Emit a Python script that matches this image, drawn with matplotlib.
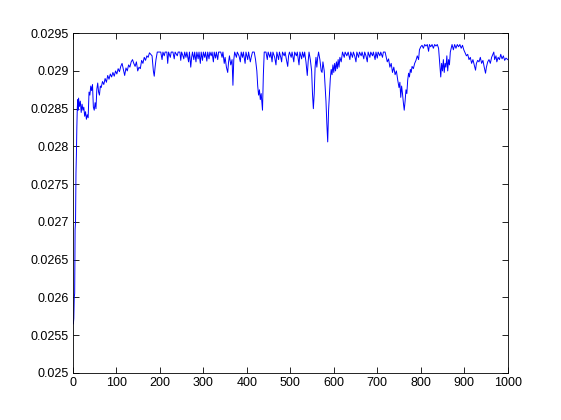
import numpy as np
import matplotlib
matplotlib.use('Agg')
import matplotlib.pyplot as plt

# warm-up / rising part (iterations 1-200)
rise_x = [1, 2, 3, 4, 5, 6, 7, 8, 9, 10, 11, 12, 13, 15, 17, 19, 21, 23, 25, 27, 29, 31, 33, 35,
          37, 39, 41, 43, 45, 47, 49, 51, 53, 55, 57, 59, 61, 63, 65, 68, 71, 74, 77, 80, 83, 86, 89,
          92, 95, 98, 101, 104, 107, 110, 113, 116, 119, 122, 125, 128, 131, 134, 137, 140, 143, 146,
          149, 152, 155, 158, 161, 164, 167, 170, 173, 176, 179, 182, 185, 187, 189, 191, 194, 197]
rise_y = [0.02565, 0.02572, 0.02600, 0.02605, 0.02690, 0.02700, 0.02765, 0.02790, 0.02825,
          0.02850, 0.02862, 0.02848, 0.02864, 0.02853, 0.02860, 0.02845, 0.02856, 0.02848, 0.02852,
          0.02840, 0.02846, 0.02836, 0.02842, 0.02838, 0.02872, 0.02868, 0.02880, 0.02874, 0.02882,
          0.02852, 0.02848, 0.02858, 0.02850, 0.02876, 0.02884, 0.02872, 0.02868, 0.02880, 0.02878,
          0.02886, 0.02882, 0.02890, 0.02885, 0.02894, 0.02889, 0.02896, 0.02892, 0.02898, 0.02893,
          0.02900, 0.02896, 0.02903, 0.02899, 0.02906, 0.02910, 0.02902, 0.02894, 0.02904, 0.02900,
          0.02908, 0.02905, 0.02912, 0.02915, 0.02910, 0.02906, 0.02912, 0.02900, 0.02905, 0.02903,
          0.02914, 0.02910, 0.02918, 0.02914, 0.02920, 0.02918, 0.02924, 0.02922, 0.02920, 0.02900,
          0.02893, 0.02905, 0.02915, 0.02925, 0.02925]

# first plateau (200-720) with the dips near 435, 550 and 585
mid_x = [200, 202, 205, 207, 210, 212, 216, 218, 220, 224, 226, 230, 233, 235, 240, 242, 246, 248, 250,
         253, 255, 257, 260, 262, 266, 268, 271, 273, 275, 278, 280, 283, 285, 288, 290, 293, 295, 298,
         300, 303, 305, 308, 310, 313, 315, 318, 320, 323, 325, 328, 330, 333, 335, 340, 343, 345, 348,
         350, 353, 356, 358, 360, 363, 366, 368, 370, 372, 376, 378, 382, 385, 387, 390, 392, 396, 398,
         402, 404, 408, 410, 413, 417, 420, 423, 425, 427, 429, 431, 433, 436, 438, 440, 444, 447, 449,
         453, 455, 458, 460, 464, 467, 469, 473, 475, 478, 480, 482, 486, 488, 491, 494, 496, 498, 502,
         504, 508, 510, 514, 516, 520, 522, 526, 528, 531, 533, 536, 539, 541, 543, 546, 549, 551, 553,
         555, 557, 559, 561, 563, 565, 568, 571, 573, 575, 578, 580, 582, 584, 586, 588, 590, 592, 594,
         596, 598, 600, 602, 604, 606, 608, 610, 612, 614, 617, 620, 624, 626, 630, 633, 637, 639, 643,
         645, 648, 651, 653, 657, 659, 663, 665, 669, 671, 674, 677, 679, 683, 685, 689, 691, 695, 697,
         700, 702, 706, 708, 712, 714, 718]
mid_y = [0.02925, 0.02925, 0.02915, 0.02925, 0.02920, 0.02925, 0.02925, 0.02910, 0.02925, 0.02918,
         0.02925, 0.02925, 0.02916, 0.02925, 0.02920, 0.02925, 0.02925, 0.02914, 0.02925, 0.02920,
         0.02916, 0.02925, 0.02918, 0.02925, 0.02912, 0.02925, 0.02905, 0.02918, 0.02925, 0.02915,
         0.02925, 0.02912, 0.02925, 0.02916, 0.02925, 0.02910, 0.02925, 0.02914, 0.02925, 0.02918,
         0.02925, 0.02913, 0.02925, 0.02916, 0.02925, 0.02920, 0.02925, 0.02912, 0.02925, 0.02917,
         0.02925, 0.02915, 0.02925, 0.02925, 0.02918, 0.02925, 0.02910, 0.02918, 0.02905, 0.02898,
         0.02912, 0.02920, 0.02908, 0.02915, 0.02881, 0.02915, 0.02925, 0.02918, 0.02925, 0.02920,
         0.02912, 0.02925, 0.02918, 0.02925, 0.02910, 0.02925, 0.02915, 0.02925, 0.02912, 0.02918,
         0.02925, 0.02925, 0.02915, 0.02900, 0.02880, 0.02868, 0.02875, 0.02862, 0.02870, 0.02848,
         0.02895, 0.02925, 0.02925, 0.02915, 0.02925, 0.02918, 0.02925, 0.02912, 0.02925, 0.02918,
         0.02908, 0.02925, 0.02915, 0.02925, 0.02918, 0.02912, 0.02925, 0.02920, 0.02925, 0.02915,
         0.02906, 0.02920, 0.02925, 0.02918, 0.02925, 0.02912, 0.02925, 0.02920, 0.02925, 0.02908,
         0.02925, 0.02916, 0.02925, 0.02918, 0.02925, 0.02912, 0.02894, 0.02912, 0.02925, 0.02915,
         0.02900, 0.02870, 0.02850, 0.02870, 0.02905, 0.02918, 0.02905, 0.02918, 0.02925, 0.02915,
         0.02900, 0.02898, 0.02912, 0.02900, 0.02880, 0.02860, 0.02830, 0.02806, 0.02848, 0.02870,
         0.02890, 0.02902, 0.02895, 0.02908, 0.02898, 0.02910, 0.02900, 0.02912, 0.02903, 0.02915,
         0.02905, 0.02918, 0.02912, 0.02925, 0.02918, 0.02925, 0.02920, 0.02925, 0.02915, 0.02925,
         0.02918, 0.02925, 0.02920, 0.02912, 0.02925, 0.02918, 0.02925, 0.02920, 0.02925, 0.02916,
         0.02925, 0.02920, 0.02912, 0.02925, 0.02918, 0.02925, 0.02920, 0.02925, 0.02915, 0.02925,
         0.02917, 0.02925, 0.02920, 0.02925, 0.02918, 0.02925, 0.02925]

# last part (720-1000): dip near 760, higher plateau ~800-900
end_x = [720, 723, 726, 729, 732, 735, 738, 741, 744, 747, 750, 752, 754, 756, 758, 760, 762, 764, 766,
         768, 770, 772, 774, 776, 778, 780, 783, 786, 789, 792, 795, 797, 800, 803, 806, 809, 812, 815,
         818, 820, 823, 826, 829, 832, 835, 838, 841, 843, 846, 848, 850, 852, 854, 856, 858, 860, 862,
         864, 866, 868, 870, 872, 875, 878, 881, 884, 887, 890, 893, 896, 899, 902, 905, 908, 911, 914,
         917, 920, 923, 926, 928, 931, 934, 937, 940, 943, 946, 949, 951, 954, 957, 960, 963, 966, 968,
         970, 973, 975, 978, 981, 984, 987, 990, 993, 996, 1000]
end_y = [0.02920, 0.02912, 0.02916, 0.02905, 0.02910, 0.02898, 0.02905, 0.02895, 0.02900, 0.02888,
         0.02878, 0.02885, 0.02865, 0.02880, 0.02870, 0.02858, 0.02848, 0.02860, 0.02875, 0.02870,
         0.02888, 0.02897, 0.02892, 0.02902, 0.02898, 0.02906, 0.02903, 0.02910, 0.02914, 0.02920,
         0.02915, 0.02928, 0.02932, 0.02934, 0.02930, 0.02935, 0.02933, 0.02935, 0.02926, 0.02935,
         0.02932, 0.02935, 0.02930, 0.02935, 0.02933, 0.02935, 0.02930, 0.02915, 0.02892, 0.02910,
         0.02900, 0.02915, 0.02898, 0.02910, 0.02905, 0.02920, 0.02900, 0.02915, 0.02908, 0.02925,
         0.02930, 0.02935, 0.02928, 0.02935, 0.02930, 0.02935, 0.02932, 0.02935, 0.02930, 0.02934,
         0.02928, 0.02924, 0.02920, 0.02922, 0.02915, 0.02918, 0.02910, 0.02915, 0.02908, 0.02901,
         0.02910, 0.02914, 0.02912, 0.02918, 0.02910, 0.02914, 0.02905, 0.02897, 0.02905, 0.02912,
         0.02915, 0.02910, 0.02918, 0.02922, 0.02925, 0.02915, 0.02920, 0.02912, 0.02918, 0.02915,
         0.02922, 0.02916, 0.02920, 0.02914, 0.02917, 0.02915]

xticks = [0, 100, 200, 300, 400, 500, 600, 700, 800, 900, 1000]
yticks = [0.025, 0.0255, 0.026, 0.0265, 0.027, 0.0275, 0.028, 0.0285, 0.029, 0.0295]
ylabels = ['0.025', '0.0255', '0.026', '0.0265', '0.027', '0.0275', '0.028', '0.0285', '0.029', '0.0295']

x = np.array(rise_x + mid_x + end_x)
y = np.array(rise_y + mid_y + end_y)

plt.rcParams['font.family'] = ['Liberation Sans', 'DejaVu Sans']
fig = plt.figure(figsize=(5.61, 4.2), dpi=100)
ax = fig.add_axes([0.13, 0.112, 0.775, 0.809])
ax.plot(x, y, color=(0, 0, 1), lw=0.7)

ax.set_xlim(0, 1000)
ax.set_ylim(0.025, 0.0295)
ax.set_xticks(xticks)
ax.set_yticks(yticks)
ax.set_yticklabels(ylabels)
ax.tick_params(direction='in', top=True, right=True, length=4, width=0.6, labelsize=9, pad=3)
for s in ax.spines.values():
    s.set_linewidth(0.6)

fig.savefig('out.png', dpi=100)
